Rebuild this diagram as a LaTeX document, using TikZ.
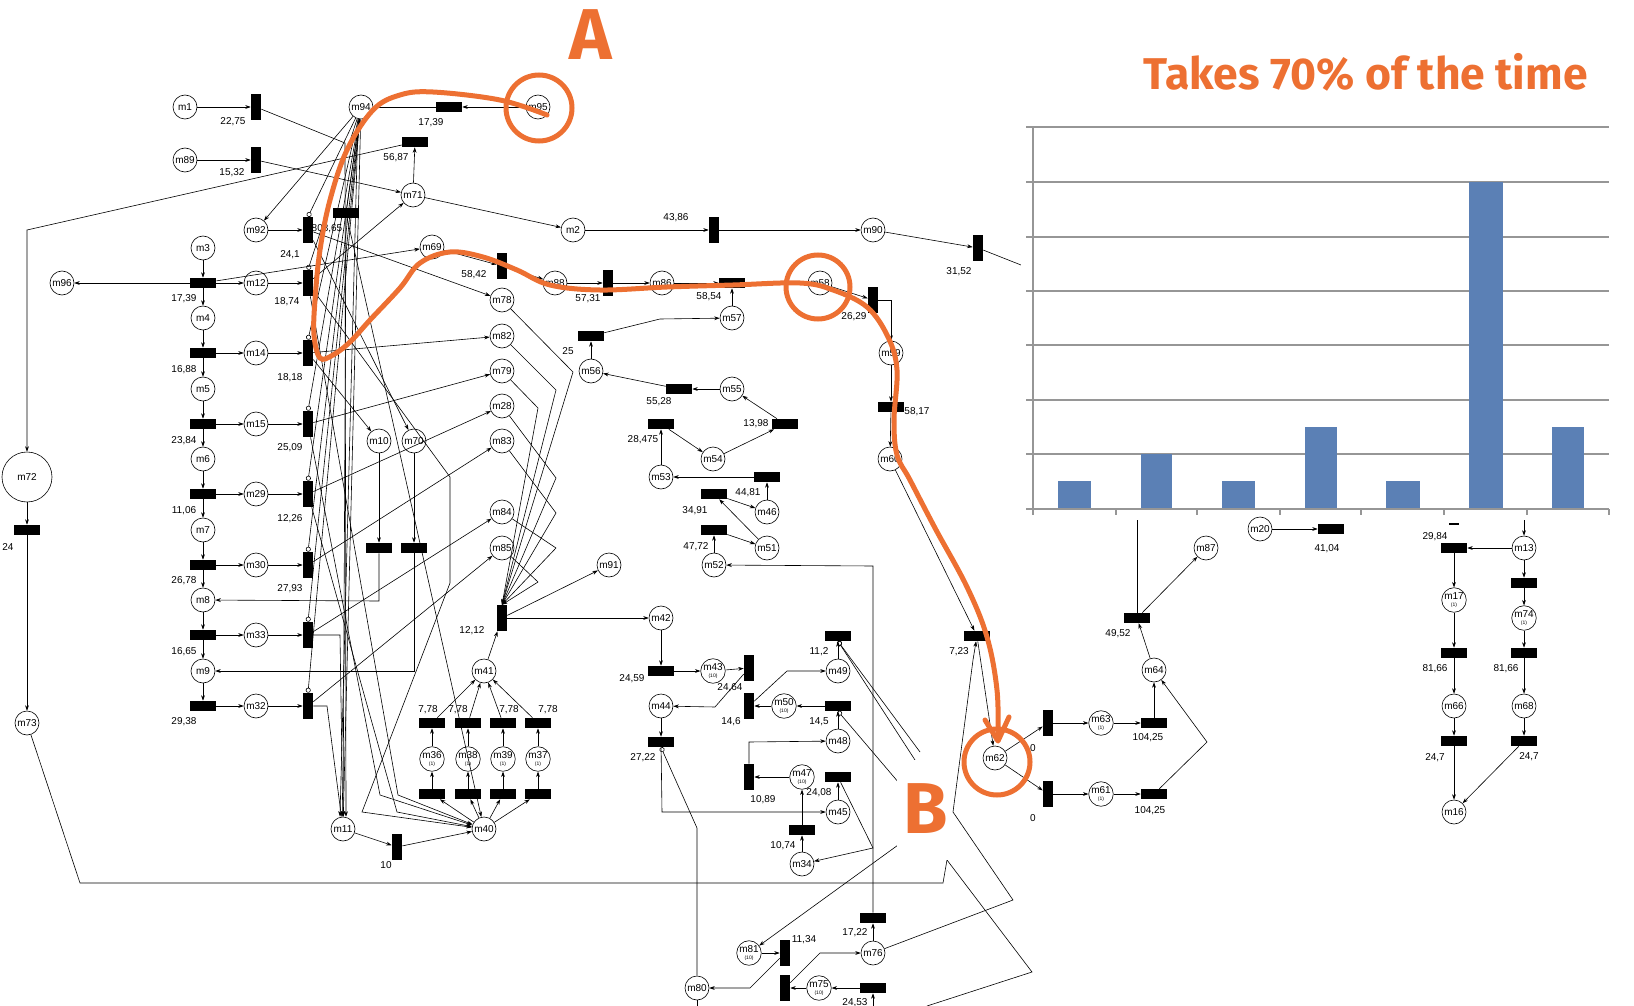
\documentclass[tikz,border=0pt]{standalone}
\usepackage{fontspec}
\setmainfont{Liberation Sans}
\newfontfamily\hlfont{Fira Sans}
\usetikzlibrary{arrows.meta}
\definecolor{org}{RGB}{237,112,50}
\definecolor{barblue}{RGB}{91,128,181}
\definecolor{gridg}{RGB}{150,150,150}
\newcommand{\pk}[2]{#1\\[-4pt]{\fontsize{5}{5}\selectfont(#2)}}
\begin{document}
\begin{tikzpicture}[x=1pt,y=-1pt,line width=0.6pt,
  font=\fontsize{10}{11}\selectfont,
  pl/.style={circle,draw,minimum size=24pt,inner sep=0pt,align=center},
  tv/.style={fill=black,minimum width=10pt,minimum height=26pt,inner sep=0pt},
  th/.style={fill=black,minimum width=26pt,minimum height=10pt,inner sep=0pt},
  lb/.style={inner sep=0pt},
  ar/.style={-{Stealth[length=5.5pt,width=3.8pt]}},
  inh/.style={-{Circle[open,length=5pt,width=5pt]}},
  hl/.style={draw=org,line width=5pt},
]
\useasboundingbox (0,0) rectangle (1634,1006);
% ---------------- places
\foreach \n/\x/\y in {m1/185/107,m89/185/160,m94/361/107,m95/538/107,m92/256/230,m71/413/195,
  m2/573/230,m90/873/230,m3/203/248,m96/62/283,m12/256/283,m4/203/318,m69/432/247,m88/555/283,
  m86/662/283,m58/820/283,m78/502/300,m57/732/318,m82/502/336,m14/256/353,m59/891/353,m56/591/371,
  m79/502/371,m55/732/389,m5/203/389,m15/256/424,m28/502/406,m10/379/441,m70/414/441,m83/502/441,
  m60/890/459,m54/713/459,m6/203/459,m53/661/477,m29/256/494,m46/767/512,m84/502/512,m7/203/530,
  m51/767/548,m85/502/548,m87/1206/548,m20/1260/529,m13/1524/548,m30/256/565,m52/714/565,
  m91/609/565,m8/203/600,m42/661/618,m33/256/635,m9/203/671,m41/484/671,m49/838/671,m64/1154/670,
  m32/256/706,m44/661/706,m66/1454/706,m68/1524/706,m48/838/741,m73/27/723,m62/995/758,
  m45/838/812,m16/1454/812,m11/343/829,m40/484/829,m34/802/864,m76/873/953,m80/697/988}
  {\node[pl] (\n) at (\x,\y) {\n};}
\node[pl,minimum size=50pt] (m72) at (27,477) {m72};
\foreach \n/\x/\y/\s in {m17/1454/600/1,m74/1524/618/1,m43/713/671/10,m50/784/706/10,m63/1101/723/1,
  m36/432/759/1,m38/468/759/1,m39/503/759/1,m37/538/759/1,m47/802/777/10,m61/1101/794/1,
  m81/749/953/10,m75/819/988/10}
  {\node[pl] (\n) at (\x,\y) {\pk{\n}{\s}};}
% ---------------- transitions
\foreach \n/\x/\y in {t1/256/107,t2/256/160,t6/308/230,t7/714/230,t8/978/248,t9/502/266,t10/608/283,
  t12/873/300,t14/308/283,t17/308/353,t23/308/424,t26/308/494,t35/308/565,t38/502/618,t42/308/635,
  t46/749/668,t48/308/706,t49/749/706,t55/1048/723,t57/749/777,t59/1048/794,t63/397/847,t65/785/953,
  t66/785/988}
  {\node[tv] (\n) at (\x,\y) {};}
\foreach \n/\x/\y in {t3/449/107,t4/415/142,t5/346/213,t11/732/283,t13/203/283,t15/591/336,
  t16/203/353,t18/679/389,t19/891/407,t20/785/424,t21/661/424,t22/203/424,t24/767/477,t25/203/494,
  t27/714/494,t28/27/530,t29/714/530,t30/1331/529,t31/1454/548,t32/379/548,t33/414/548,t34/203/565,
  t36/1524/583,t37/1137/618,t39/977/636,t40/838/636,t41/203/635,t43/1454/653,t44/1524/653,
  t45/661/671,t47/203/706,ta1/432/723,ta2/468/723,ta3/503/723,ta4/538/723,t52/1454/741,t53/1524/741,
  t54/661/742,t56/1154/723,t50/838/706,t58/838/777,t60/1154/794,tb1/432/794,tb2/468/794,tb3/503/794,
  tb4/538/794,t62/802/830,t64/873/918,t67/873/988}
  {\node[th] (\n) at (\x,\y) {};}
% ---------------- labels
\foreach \x/\y/\t in {233/122/{22,75},232/173/{15,32},431/123/{17,39},396/158/{56,87},327/229/{808,65},
  290/255/{24,1},676/218/{43,86},959/272/{31,52},474/275/{58,42},588/299/{57,31},709/297/{58,54},
  854/317/{26,29},184/299/{17,39},287/302/{18,74},568/351/{25},184/370/{16,88},290/378/{18,18},
  659/402/{55,28},917/412/{58,17},756/424/{13,98},643/440/{28,475},184/441/{23,84},290/448/{25,09},
  748/493/{44,81},184/511/{11,06},290/519/{12,26},695/511/{34,91},8/547/{24},696/547/{47,72},
  1327/549/{41,04},1435/537/{29,84},184/581/{26,78},290/589/{27,93},1118/634/{49,52},472/631/{12,12},
  959/652/{7,23},819/652/{11,2},184/652/{16,65},1435/669/{81,66},1506/669/{81,66},632/679/{24,59},
  730/688/{24,64},184/722/{29,38},731/722/{14,6},819/722/{14,5},428/710/{7,78},458/710/{7,78},
  509/710/{7,78},548/710/{7,78},1435/758/{24,7},1529/757/{24,7},643/758/{27,22},1033/748/{0},
  1148/738/{104,25},763/800/{10,89},819/793/{24,08},1033/818/{0},1150/811/{104,25},783/846/{10,74},
  386/865/{10},855/933/{17,22},804/940/{11,34},855/1003/{24,53}}
  {\node[lb] at (\x,\y) {\t};}
% ---------------- arcs: left part
\draw[ar] (m1) -- (t1);
\draw[ar] (m89) -- (t2);
\draw[ar] (m95) -- (t3);
\draw (t3) -- (m94);
\draw[ar] (t2) -- (m71);
\draw[ar] (m94) -- (m92);
\draw[ar] (m71) -- (t4);
\draw[ar] (t4) -- (27,230) -- (m72);
\draw[ar] (m71) -- (m2);
\draw[ar] (m2) -- (t7);
\draw[ar] (t7) -- (m90);
\draw[ar] (m90) -- (t8);
\draw (t8) -- (1021,265);
\draw[ar] (m92) -- (t6);
\draw[ar] (t6) -- (m78);
\draw[ar] (m3) -- (t13);
\draw[ar] (t13) -- (m96);
\foreach \t/\a/\b/\c in {t13/m12/m4/t16,t16/m14/m5/t22,t22/m15/m6/t25,t25/m29/m7/t34,t34/m30/m8/t41,t41/m33/m9/t47}
  {\draw[ar] (\t) -- (\a); \draw[ar] (\t) -- (\b); \draw[ar] (\b) -- (\c);}
\draw[ar] (t47) -- (m32);
\foreach \a/\b in {m12/t14,m14/t17,m15/t23,m29/t26,m30/t35,m33/t42,m32/t48}
  {\draw[ar] (\a) -- (\b);}
\draw[ar] (t14) -- (m71);
\draw[ar] (t13) -- (m69);
\draw[ar] (t17) -- (m82);
\draw[ar] (t23) -- (m79);
\draw[ar] (t26) -- (m28);
\draw[ar] (t35) -- (m83);
\draw[ar] (t42) -- (m84);
\draw[ar] (t48) -- (m85);
\draw[ar] (t17) -- (m10);
\draw[ar] (t6) -- (m70);
\draw[ar] (m10) -- (t32);
\draw[ar] (m70) -- (t33);
\draw[ar] (t32) -- (379,601) -- (m8);
\draw[ar] (t33) -- (414,671) -- (m9);
\draw[ar] (m72) -- (t28);
\draw[ar] (t28) -- (m73);
\draw (m73) -- (80,883) -- (943,883) -- (947,860);
% bundle from m94
\foreach \t in {t6,t14,t17,t23,t26,t35,t42,t48}
  {\draw[inh] (m94) -- (\t.north);}
\draw (m94) -- (t5);
\draw[ar] (t5) -- (m11);
\draw[ar] (t5) -- (m40);
\draw[ar] (m94) -- (m11);
\draw[ar] ([xshift=-3pt]m94.south) -- ([xshift=-3pt]m11.north);
\draw[ar] (t1) -- (345,143) -- ([xshift=3pt]m11.north);
\draw[ar] (t14) -- (398,795) -- (m40);
\draw[ar] (t23) -- (380,795) -- (m40);
\draw[ar] (t26) -- (397,812) -- (m40);
\draw[ar] (t14) -- (450,477) -- (450,583) -- (362,812) -- (m40);
\draw[ar] (t42) -- (340,635) -- (m11);
\draw[ar] (t48) -- (327,706) -- (m11);
% middle
\draw[ar] (m69) -- (t9);
\draw[ar] (t9) -- (m88);
\draw[ar] (m88) -- (t10);
\draw[ar] (t10) -- (m86);
\draw[ar] (m86) -- (t11);
\draw[ar] (t11) -- (m58);
\draw[ar] (m57) -- (t11);
\draw[ar] (m58) -- (t12);
\draw[ar] (t12) -- (891,300) -- (m59);
\draw[ar] (m59) -- (t19);
\draw[ar] (t19) -- (m60);
\draw[ar] (m60) -- (t39);
\draw[ar] (m56) -- (t15);
\draw[ar] (t15) -- (660,319) -- (m57);
\draw[ar] (m55) -- (t18);
\draw[ar] (t18) -- (m56);
\draw[ar] (t20) -- (m55);
\draw[ar] (m54) -- (t20);
\draw[ar] (t21) -- (m54);
\draw[ar] (m53) -- (t21);
\draw[ar] (t24) -- (m53);
\draw[ar] (m46) -- (t24);
\draw[ar] (t27) -- (m46);
\draw[ar] (m51) -- (t27);
\draw[ar] (t29) -- (m51);
\draw[ar] (m52) -- (t29);
\draw[ar] (m76) -- (t64);
\draw[ar] (t64) -- (873,566) -- (m52);
\draw[ar] (m78) -- (573,372) -- (t38.north);
\draw[ar] (m82) -- (556,390) -- (t38.north);
\draw[ar] (m79) -- (538,408) -- (t38.north);
\draw[ar] (m28) -- (556,478) -- (t38.north);
\draw[ar] (m83) -- (556,513) -- (t38.north);
\draw[ar] (m84) -- (556,548) -- (t38.north);
\draw[ar] (m85) -- (538,582) -- (t38.north);
\draw[ar] (m41) -- (t38);
\draw[ar] (t38) -- (m91);
\draw[ar] (t38) -- (m42);
\draw[ar] (m42) -- (t45);
\draw[ar] (t45) -- (m43);
\draw[ar] (m43) -- (t46);
\draw[ar] (t46) -- (715,707) -- (m44);
\draw[ar] (m44) -- (t54);
\draw[ar] (t54) -- (662,812) -- (m45);
\draw[inh] (m80) -- (697,828) -- (t54.south);
\draw (m80) -- (697,1006);
\draw[ar] (m50) -- (t49);
\draw[ar] (t49) -- (787,671) -- (m49);
\draw[ar] (m49) -- (t40);
\draw[ar] (m48) -- (t50);
\draw[ar] (t50) -- (m50);
\draw[ar] (m47) -- (t57);
\draw[ar] (t57) -- (749,742) -- (m48);
\draw[ar] (m45) -- (t58);
\draw[ar] (t58) -- (873,848) -- (m34);
\draw[ar] (m34) -- (t62);
\draw[ar] (t62) -- (m47);
\draw[inh] (915,760) -- (t40.south);
\draw[inh] (920,752) -- (t40.south);
\draw[inh] (905,790) -- (t50.south);
\draw[ar] (905,840) -- (m81);
\draw[ar] (m81) -- (t65);
\draw[ar] (t65) -- (750,988) -- (m80);
\draw[ar] (t67) -- (m75);
\draw[ar] (m75) -- (t66);
\draw[ar] (t66) -- (820,953) -- (m76);
\draw[ar] (873,1006) -- (t67);
\draw[ar] (m76) -- (1013,900) -- (953,812) -- (973,660) -- (t39);
\draw (947,860) -- (1032,972) -- (927,1006);
\draw[ar] (t39) -- (m62);
\draw[ar] (m11) -- (t63);
\draw[ar] (t63) -- (m40);
\foreach \i/\p in {1/m36,2/m38,3/m39,4/m37}
  {\draw[ar] (m40) -- (tb\i); \draw[ar] (tb\i) -- (\p); \draw[ar] (\p) -- (ta\i); \draw[ar] (ta\i) -- (m41);}
% right part
\draw[ar] (m62) -- (t55);
\draw[ar] (m62) -- (t59);
\draw[ar] (t55) -- (m63);
\draw[ar] (m63) -- (t56);
\draw[ar] (t56) -- (m64);
\draw[ar] (t59) -- (m61);
\draw[ar] (m61) -- (t60);
\draw[ar] (t60) -- (1207,742) -- (m64);
\draw[ar] (m64) -- (t37);
\draw[ar] (t37) -- (m87);
\draw (t37) -- (1137,520);
\draw[ar] (m20) -- (t30);
\draw[ar] (1524,520) -- (m13);
\draw[ar] (m13) -- (t31);
\draw[ar] (t31) -- (m17);
\draw[ar] (m17) -- (t43);
\draw[ar] (t43) -- (m66);
\draw[ar] (m66) -- (t52);
\draw[ar] (t52) -- (m16);
\draw[ar] (m13) -- (t36);
\draw[ar] (t36) -- (m74);
\draw[ar] (m74) -- (t44);
\draw[ar] (t44) -- (m68);
\draw[ar] (m68) -- (t53);
\draw[ar] (t53) -- (m16);
% ---------------- chart
\fill[white] (1021,112) rectangle (1634,516);
\draw[line width=1.6pt] (1449,524) -- (1459,524);
\foreach \y in {127,182,237,291,345,400,454,509}
  {\draw[gridg,line width=1.2pt] (1026,\y) -- (1609,\y);}
\draw[gridg,line width=1.2pt] (1033,127) -- (1033,509);
\foreach \x in {1033,1116,1197,1280,1361,1444,1527,1609}
  {\draw[gridg,line width=1.2pt] (\x,509) -- (\x,515);}
\foreach \a/\b/\h in {1058/1091/481,1141/1172/454,1222/1255/481,1305/1337/427,1386/1420/481,1469/1503/182,1552/1584/427}
  {\fill[barblue] (\a,\h) rectangle (\b,508);}
\node[lb,text=org,font=\hlfont\bfseries\fontsize{44.5}{50}\selectfont,anchor=base east] (title) at (1588,90) {Takes 70\% of the time};
% ---------------- highlights
\node[fill=white,minimum width=54pt,minimum height=100pt,inner sep=0pt] (Bbox) at (924,810) {};
\node[lb,text=org,font=\hlfont\bfseries\fontsize{72}{72}\selectfont] (B) at (926,809) {B};
\node[lb,text=org,font=\hlfont\bfseries\fontsize{72}{72}\selectfont] (A) at (591,35) {A};
\draw[hl] (539,108) circle (33);
\draw[hl] (818,287) circle (32);
\draw[hl] (997,762) circle (33);
\draw[hl,line cap=round] plot[smooth,tension=0.6] coordinates {(547,115) (500,100) (433,92) (400,95) (373,110) (347,150) (330,200) (320,250) (315,300) (314,335) (320,358) (333,355) (350,342) (370,320) (400,288) (420,263) (450,252) (483,257) (517,270) (550,285) (600,290) (667,287) (733,285) (800,283) (833,290) (867,307) (888,337) (897,370) (894,420) (897,455) (910,480) (935,528) (967,587) (987,637) (997,690) (998,738)};
\draw[draw=org,line width=5pt,line cap=round,line join=round] (985,720) -- (998,741) -- (1009,717);
\end{tikzpicture}
\end{document}
